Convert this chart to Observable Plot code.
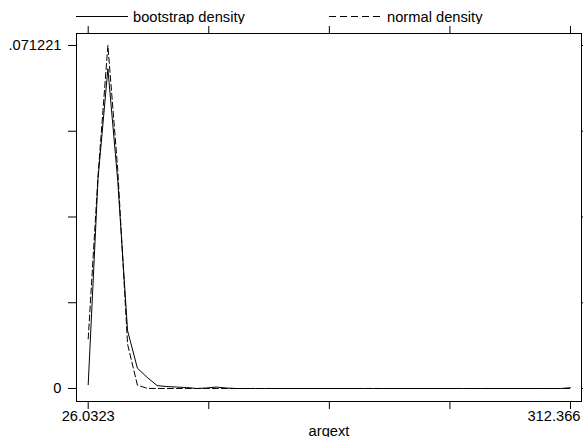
<!DOCTYPE html>
<html><head><meta charset="utf-8">
<script src="https://cdn.jsdelivr.net/npm/d3@7"></script>
<script src="https://cdn.jsdelivr.net/npm/@observablehq/plot@0.6"></script>
<style>
html,body{margin:0;padding:0;background:#fff;overflow:hidden;}
#wrap{width:583px;height:437px;position:relative;font-family:"Liberation Sans",Arial,Helvetica,sans-serif;}
#legend{display:block;}
</style></head><body><div id="wrap"></div>
<script>
// Evaluation grid of argext (50 points, Stata kdensity default)
const xGrid = [26.0323, 31.8758, 37.7194, 43.5629, 49.4065, 55.2500, 61.0936, 66.9371, 72.7807, 78.6242,
  84.4678, 90.3113, 96.1549, 101.9984, 107.8419, 113.6855, 119.5290, 125.3726, 131.2161, 137.0597,
  142.9032, 148.7468, 154.5903, 160.4339, 166.2774, 172.1210, 177.9645, 183.8081, 189.6516, 195.4952,
  201.3387, 207.1822, 213.0258, 218.8693, 224.7129, 230.5564, 236.4000, 242.2435, 248.0871, 253.9306,
  259.7742, 265.6177, 271.4613, 277.3048, 283.1484, 288.9919, 294.8355, 300.6790, 306.5226, 312.3661];

const bootstrapDensity = [0.0008, 0.0436, 0.0664, 0.0432, 0.0120, 0.0042, 0.0023, 0.0006, 0.0004, 0.0003,
  0.0002, 0.0000, 0.0001, 0.0003, 0.0001, 0.0000, 0.0000, 0.0000, 0.0000, 0.0000,
  0.0000, 0.0000, 0.0000, 0.0000, 0.0000, 0.0000, 0.0000, 0.0000, 0.0000, 0.0000,
  0.0000, 0.0000, 0.0000, 0.0000, 0.0000, 0.0000, 0.0000, 0.0000, 0.0000, 0.0000,
  0.0000, 0.0000, 0.0000, 0.0000, 0.0000, 0.0000, 0.0000, 0.0000, 0.0000, 0.00015];

const normalDensity = [0.0103, 0.0442, 0.071221, 0.0455, 0.0092, 0.0007, 0.00003, 0, 0, 0,
  0, 0, 0, 0, 0, 0, 0, 0, 0, 0,
  0, 0, 0, 0, 0, 0, 0, 0, 0, 0,
  0, 0, 0, 0, 0, 0, 0, 0, 0, 0,
  0, 0, 0, 0, 0, 0, 0, 0, 0, 0];

const seriesNames = ["bootstrap density", "normal density"];
const xTickValues = [26.0323, 97.6157, 169.1991, 240.7826, 312.366];
const xTickLabels = ["26.0323", "", "", "", "312.366"];
const yTickValues = [0, 0.017805, 0.035611, 0.053416, 0.071221];
const yTickLabels = ["0", "", "", "", ".071221"];
const xTitle = "argext";

const table = xGrid.map((x, i) => ({x, boot: bootstrapDensity[i], norm: normalDensity[i]}));
const xLab = new Map(xTickValues.map((v, i) => [v, xTickLabels[i]]));
const yLab = new Map(yTickValues.map((v, i) => [v, yTickLabels[i]]));

const FONT = '"Liberation Sans", Arial, Helvetica, sans-serif';
const wrap = document.getElementById("wrap");

// Legend (above the plot)
const leg = d3.create("svg").attr("id", "legend").attr("width", 583).attr("height", 24)
  .style("font-family", FONT).style("font-size", "14.7px");
leg.append("line").attr("x1", 76).attr("x2", 128).attr("y1", 16.5).attr("y2", 16.5)
  .attr("stroke", "#000").attr("stroke-width", 1);
leg.append("text").attr("x", 133).attr("y", 22).attr("fill", "#000").text(seriesNames[0]);
leg.append("line").attr("x1", 329).attr("x2", 383).attr("y1", 16.5).attr("y2", 16.5)
  .attr("stroke", "#000").attr("stroke-width", 1).attr("stroke-dasharray", "7,4");
leg.append("text").attr("x", 387).attr("y", 22).attr("fill", "#000").text(seriesNames[1]);
wrap.appendChild(leg.node());

const chart = Plot.plot({
  width: 583,
  height: 413,
  marginLeft: 76,
  marginRight: 2,
  marginTop: 9,
  marginBottom: 36,
  style: {fontFamily: FONT, fontSize: "14.7px", color: "#000", background: "#fff"},
  x: {type: "linear", domain: [19.086, 318.896]},
  y: {type: "linear", domain: [-0.0027, 0.07371]},
  marks: [
    Plot.frame({stroke: "#000", strokeWidth: 1}),
    Plot.axisY({ticks: yTickValues, anchor: "left", tickSize: 8, tickPadding: 7,
      tickFormat: d => yLab.get(d) ?? "", label: null, stroke: "#000"}),
    Plot.axisY({ticks: yTickValues, anchor: "right", tickSize: 8,
      tickFormat: () => "", label: null, stroke: "#000"}),
    Plot.axisX({ticks: xTickValues, anchor: "top", tickSize: 8,
      tickFormat: () => "", label: null, stroke: "#000"}),
    Plot.axisX({ticks: xTickValues, anchor: "bottom", tickSize: 8, tickPadding: 1,
      tickFormat: d => (d === xTickValues[0] ? xLab.get(d) : ""), label: null, stroke: "#000"}),
    Plot.axisX({ticks: [xTickValues[xTickValues.length - 1]], anchor: "bottom", tickSize: 0, tickPadding: 9,
      textAnchor: "end", dx: 10, tickFormat: d => xLab.get(d), label: null}),
    Plot.line(table, {x: "x", y: "boot", stroke: "#000", strokeWidth: 1}),
    Plot.line(table, {x: "x", y: "norm", stroke: "#000", strokeWidth: 1, strokeDasharray: "6,3"}),
    Plot.text([xTitle], {text: d => d, frameAnchor: "bottom", lineAnchor: "bottom", dy: 34, fill: "#000"})
  ]
});
chart.style.display = "block";
wrap.appendChild(chart);
</script></body></html>
